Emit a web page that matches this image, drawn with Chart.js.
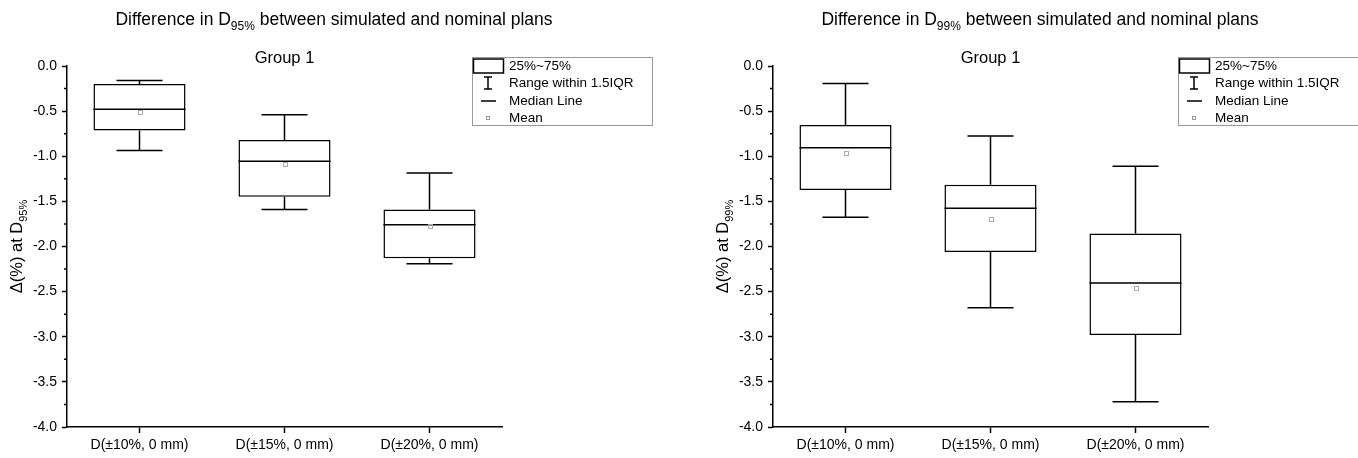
<!DOCTYPE html>
<html>
<head>
<meta charset="utf-8">
<script src="https://cdn.jsdelivr.net/npm/chart.js@4.4.0/dist/chart.umd.min.js"></script>
<style>
  html, body { margin: 0; padding: 0; background: #fff; overflow: hidden; }
  canvas { position: absolute; top: 0; }
</style>
</head>
<body>
<canvas id="c95" width="706" height="458" style="left:0"></canvas>
<canvas id="c99" width="652" height="458" style="left:706px"></canvas>
<script>
// categories and tick labels
const categories = ['D(±10%, 0 mm)', 'D(±15%, 0 mm)', 'D(±20%, 0 mm)'];
const yTicks = [0, -0.5, -1, -1.5, -2, -2.5, -3, -3.5, -4];
const yMinorTicks = [-0.25, -0.75, -1.25, -1.75, -2.25, -2.75, -3.25, -3.75];

// D95% box stats
const d95WhiskerHigh = [-0.16, -0.54, -1.185];
const d95Q3 = [-0.20, -0.82, -1.59];
const d95Median = [-0.48, -1.055, -1.76];
const d95Mean = [-0.505, -1.09, -1.77];
const d95Q1 = [-0.715, -1.45, -2.13];
const d95WhiskerLow = [-0.935, -1.59, -2.19];

// D99% box stats
const d99WhiskerHigh = [-0.195, -0.775, -1.11];
const d99Q3 = [-0.655, -1.315, -1.855];
const d99Median = [-0.905, -1.575, -2.405];
const d99Mean = [-0.965, -1.70, -2.465];
const d99Q1 = [-1.375, -2.06, -2.98];
const d99WhiskerLow = [-1.675, -2.68, -3.72];

const FONT = '"Liberation Sans", Arial, sans-serif';
Chart.defaults.font.family = FONT;
Chart.defaults.color = '#000';

// text with a subscript part: parts = [[text, isSub], ...]
function drawParts(ctx, parts, x, y, size) {
    const subSize = Math.round(size * 0.68);
    let total = 0;
    parts.forEach(p => {
        ctx.font = (p[1] ? subSize : size) + 'px ' + FONT;
        total += ctx.measureText(p[0]).width;
    });
    let cx = x - total / 2;
    ctx.textAlign = 'left';
    ctx.textBaseline = 'alphabetic';
    parts.forEach(p => {
        ctx.font = (p[1] ? subSize : size) + 'px ' + FONT;
        ctx.fillText(p[0], cx, p[1] ? y + size * 0.3 : y);
        cx += ctx.measureText(p[0]).width;
    });
}

const boxExtras = {
    id: 'boxExtras',
    afterDatasetsDraw(chart, args, opts) {
        const ctx = chart.ctx;
        const xs = chart.scales.x, ys = chart.scales.y;
        const meta = chart.getDatasetMeta(0);
        const s = opts.stats;
        ctx.save();
        ctx.strokeStyle = '#000';
        ctx.lineWidth = 1.5;
        categories.forEach((c, i) => {
            const x = xs.getPixelForValue(i);
            const hw = meta.data[i].width / 2;
            const yHi = ys.getPixelForValue(s.hi[i]);
            const yQ3 = ys.getPixelForValue(s.q3[i]);
            const yQ1 = ys.getPixelForValue(s.q1[i]);
            const yLo = ys.getPixelForValue(s.lo[i]);
            const yMed = ys.getPixelForValue(s.med[i]);
            ctx.beginPath();
            ctx.moveTo(x, yQ3); ctx.lineTo(x, yHi);
            ctx.moveTo(x - hw / 2, yHi); ctx.lineTo(x + hw / 2, yHi);
            ctx.moveTo(x, yQ1); ctx.lineTo(x, yLo);
            ctx.moveTo(x - hw / 2, yLo); ctx.lineTo(x + hw / 2, yLo);
            ctx.moveTo(x - hw, yMed); ctx.lineTo(x + hw, yMed);
            ctx.stroke();
            // mean marker
            const yMean = ys.getPixelForValue(s.mean[i]);
            ctx.save();
            ctx.strokeStyle = '#aaa';
            ctx.lineWidth = 1;
            ctx.strokeRect(Math.round(x) - 1.5, Math.round(yMean) - 1.5, 4, 4);
            ctx.restore();
        });
        ctx.restore();
    },
    afterDraw(chart, args, opts) {
        const ctx = chart.ctx;
        const area = chart.chartArea;
        const ys = chart.scales.y;
        ctx.save();
        ctx.fillStyle = '#000';
        // minor ticks on y
        ctx.strokeStyle = '#000';
        ctx.lineWidth = 1.5;
        ctx.beginPath();
        yMinorTicks.forEach(v => {
            const y = ys.getPixelForValue(v);
            ctx.moveTo(area.left, y); ctx.lineTo(area.left - 3, y);
        });
        ctx.stroke();
        // main title
        drawParts(ctx, [['Difference in D', false], [opts.sub, true], [' between simulated and nominal plans', false]], 334, 25, 17.5);
        // group title
        ctx.font = '16.5px ' + FONT;
        ctx.textAlign = 'center';
        ctx.fillText('Group 1', (area.left + area.right) / 2, 63);
        // y axis title
        ctx.save();
        ctx.translate(22, (area.top + area.bottom) / 2);
        ctx.rotate(-Math.PI / 2);
        drawParts(ctx, [['\u0394(%) at D', false], [opts.sub, true]], 0, 0, 16.5);
        ctx.restore();
        // legend
        const lx = area.right - 30, ly = 57;
        ctx.strokeStyle = '#999';
        ctx.lineWidth = 1;
        ctx.strokeRect(lx + 0.5, ly + 0.5, 180, 68);
        ctx.strokeStyle = '#000';
        ctx.lineWidth = 1.5;
        ctx.strokeRect(lx + 1.5, ly + 2, 30, 14);
        ctx.beginPath();
        ctx.moveTo(lx + 16, ly + 20); ctx.lineTo(lx + 16, ly + 32);
        ctx.moveTo(lx + 12, ly + 20); ctx.lineTo(lx + 20, ly + 20);
        ctx.moveTo(lx + 12, ly + 32); ctx.lineTo(lx + 20, ly + 32);
        ctx.moveTo(lx + 9, ly + 44); ctx.lineTo(lx + 24, ly + 44);
        ctx.stroke();
        ctx.strokeStyle = '#999';
        ctx.lineWidth = 1;
        ctx.strokeRect(lx + 14.5, ly + 59.5, 3, 3);
        ctx.font = '13.5px ' + FONT;
        ctx.textAlign = 'left';
        ctx.textBaseline = 'middle';
        ctx.fillText('25%~75%', lx + 37, ly + 9);
        ctx.fillText('Range within 1.5IQR', lx + 37, ly + 26);
        ctx.fillText('Median Line', lx + 37, ly + 44);
        ctx.fillText('Mean', lx + 37, ly + 61);
        ctx.restore();
    }
};

function boxChart(id, width, sub, stats) {
    new Chart(document.getElementById(id), {
        type: 'bar',
        data: {
            labels: categories,
            datasets: [{
                data: stats.q1.map((v, i) => [v, stats.q3[i]]),
                backgroundColor: '#fff',
                borderColor: '#000',
                borderWidth: 1.5,
                borderSkipped: false,
                barPercentage: 0.635,
                categoryPercentage: 1,
            }],
        },
        options: {
            responsive: false,
            animation: false,
            layout: { padding: { top: 66, right: width - 502, left: 0, bottom: 0 } },
            plugins: {
                legend: { display: false },
                tooltip: { enabled: false },
                boxExtras: { sub: sub, stats: stats },
            },
            scales: {
                x: {
                    grid: { offset: false, drawOnChartArea: false, tickLength: 6, tickColor: '#000', tickWidth: 1.5 },
                    border: { color: '#000', width: 1.5 },
                    ticks: { font: { size: 14 }, padding: 4, maxRotation: 0 },
                    afterFit: sc => { sc.height = 31; },
                },
                y: {
                    min: -4,
                    max: 0,
                    afterBuildTicks: sc => { sc.ticks = yTicks.map(v => ({ value: v })); },
                    grid: { drawOnChartArea: false, tickLength: 5, tickColor: '#000', tickWidth: 1.5 },
                    border: { color: '#000', width: 1.5 },
                    ticks: { font: { size: 14 }, padding: 5, callback: v => v.toFixed(1) },
                    afterFit: sc => { sc.width = 67; },
                },
            },
        },
        plugins: [boxExtras],
    });
}

boxChart('c95', 706, '95%', { hi: d95WhiskerHigh, q3: d95Q3, med: d95Median, mean: d95Mean, q1: d95Q1, lo: d95WhiskerLow });
boxChart('c99', 652, '99%', { hi: d99WhiskerHigh, q3: d99Q3, med: d99Median, mean: d99Mean, q1: d99Q1, lo: d99WhiskerLow });
</script>
</body>
</html>
